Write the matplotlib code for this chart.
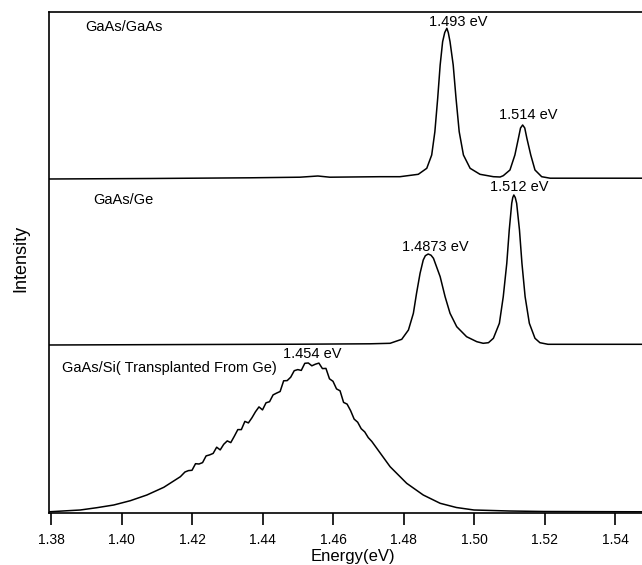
import matplotlib
matplotlib.use("Agg")
import matplotlib.pyplot as plt
import numpy as np

plt.rcParams['font.family'] = ['Liberation Sans', 'DejaVu Sans']

# ---- data (energy in eV, intensity in arbitrary units above each baseline) ----
e_gaas = [1.3790, 1.4081, 1.4365, 1.4506, 1.4557, 1.4591, 1.4733, 1.4790, 1.4842,
          1.4866, 1.4880, 1.4889, 1.4897, 1.4904, 1.4911, 1.4917, 1.4923, 1.4927,
          1.4932, 1.4941, 1.4949, 1.4958, 1.4970, 1.4989, 1.5017, 1.5055, 1.5074,
          1.5083, 1.5102, 1.5116, 1.5126, 1.5132, 1.5138, 1.5144, 1.5150, 1.5161,
          1.5173, 1.5192, 1.5216, 1.5480]
i_gaas = [0.0, 0.5, 1.2, 1.8, 3.0, 1.8, 2.3, 2.3, 4.7,
          10.7, 24.0, 47.3, 80.7, 114.0, 137.3, 146.5, 150.7, 146.5,
          137.3, 114.0, 80.7, 47.3, 24.0, 10.7, 4.7, 2.3, 2.0,
          3.3, 9.0, 24.0, 40.7, 51.0, 54.0, 51.0, 40.7, 24.0,
          9.0, 2.3, 0.8, 0.8]

e_ge = [1.3790, 1.4223, 1.4506, 1.4705, 1.4762, 1.4795, 1.4814, 1.4828, 1.4837,
        1.4847, 1.4856, 1.4862, 1.4870, 1.4878, 1.4885, 1.4904, 1.4918, 1.4932,
        1.4951, 1.4979, 1.5008, 1.5026, 1.5041, 1.5055, 1.5072, 1.5083, 1.5093,
        1.5100, 1.5107, 1.5110, 1.5113, 1.5117, 1.5121, 1.5129, 1.5136, 1.5145,
        1.5157, 1.5173, 1.5187, 1.5210, 1.5480]
i_ge = [0.0, 0.5, 0.8, 1.2, 1.7, 5.7, 15.0, 31.7, 51.7,
        71.7, 85.0, 89.3, 91.0, 89.8, 86.7, 68.3, 48.3, 31.7,
        18.3, 8.3, 3.3, 1.7, 2.3, 6.7, 21.7, 48.3, 81.7,
        115.0, 141.7, 147.5, 150.0, 147.5, 141.7, 115.0, 81.7, 48.3,
        21.7, 6.7, 2.3, 0.7, 0.7]

e_si = [1.3794, 1.3883, 1.3930, 1.3978, 1.4025, 1.4072, 1.4120, 1.4167,
        1.418, 1.419, 1.420, 1.421, 1.422, 1.423, 1.424, 1.425, 1.426, 1.427,
        1.428, 1.429, 1.430, 1.431, 1.432, 1.433, 1.434, 1.435, 1.436, 1.437,
        1.438, 1.439, 1.440, 1.441, 1.442, 1.443, 1.444, 1.445, 1.446, 1.447,
        1.448, 1.449, 1.450, 1.451, 1.452, 1.453, 1.454, 1.455, 1.456, 1.457,
        1.458, 1.459, 1.460, 1.461, 1.462, 1.463, 1.464, 1.465, 1.466, 1.467,
        1.468, 1.469, 1.470, 1.471,
        1.4762, 1.4809, 1.4856, 1.4904, 1.4950, 1.5000, 1.5100, 1.5199, 1.5480]
i_si = [1.2, 3.0, 5.3, 8.0, 12.3, 18.0, 25.7, 36.3,
        41.0, 42.4, 42.7, 49.3, 49.0, 50.4, 57.1, 58.1, 59.6, 65.8,
        63.1, 68.7, 72.1, 70.4, 76.7, 83.4, 83.4, 91.6, 90.1, 95.2,
        101.2, 106.1, 103.1, 110.2, 111.3, 118.1, 119.9, 121.5, 132.2, 132.4,
        135.8, 142.3, 143.4, 142.6, 149.7, 150.0, 147.2, 148.8, 149.9, 144.4,
        144.6, 134.2, 131.7, 124.1, 122.2, 110.6, 108.9, 102.3, 93.9, 90.8,
        84.3, 81.1, 75.4, 71.6,
        46.3, 29.7, 18.0, 9.7, 5.5, 3.0, 2.0, 1.5, 1.2]

sample_names = ["GaAs/GaAs", "GaAs/Ge", "GaAs/Si( Transplanted From Ge)"]
offsets = [334, 168, 0]

peak_labels = ["1.493 eV", "1.514 eV", "1.4873 eV", "1.512 eV", "1.454 eV"]
peak_label_x = [1.4955, 1.5153, 1.4889, 1.5128, 1.4540]
peak_label_y = [491, 398, 266, 326, 159]

name_x = [1.3896, 1.3919, 1.3831]
name_y = [486, 313, 145]

x_ticks = [1.38, 1.40, 1.42, 1.44, 1.46, 1.48, 1.50, 1.52, 1.54]

# ---- figure ----
fig = plt.figure(figsize=(6.42, 5.65), dpi=100)
ax = fig.add_axes([49/642, 1 - 513/565, 1 - 49/642, (513 - 12)/565])

series = [(e_gaas, i_gaas), (e_ge, i_ge), (e_si, i_si)]
for (e, i), off in zip(series, offsets):
    ax.plot(e, np.array(i) + off, color='black', lw=1.1)

for name, x, y in zip(sample_names, name_x, name_y):
    ax.text(x, y, name, fontsize=10.5, ha='left', va='center')

for lab, x, y in zip(peak_labels, peak_label_x, peak_label_y):
    ax.text(x, y, lab, fontsize=10.5, ha='center', va='center')

ax.set_xlim(1.38 - 2/3525, 1.38 + 591/3525)
ax.set_ylim(0, 501)
ax.set_xticks(x_ticks)
ax.set_xticklabels([f"{t:.2f}" for t in x_ticks])
ax.set_yticks([])
ax.tick_params(axis='x', direction='out', length=8.5, width=1.2, pad=6, labelsize=10)
for s in ['left', 'bottom', 'top']:
    ax.spines[s].set_linewidth(1.2)
ax.spines['right'].set_visible(False)

ax.set_xlabel('Energy(eV)', fontsize=12, va='center')
ax.xaxis.set_label_coords((353 - 49)/593, (513 - 556)/501)
ax.set_ylabel('Intensity', fontsize=13, va='center')
ax.yaxis.set_label_coords((21 - 49)/593, (513 - 258)/501)

fig.savefig('out.png', dpi=100)
